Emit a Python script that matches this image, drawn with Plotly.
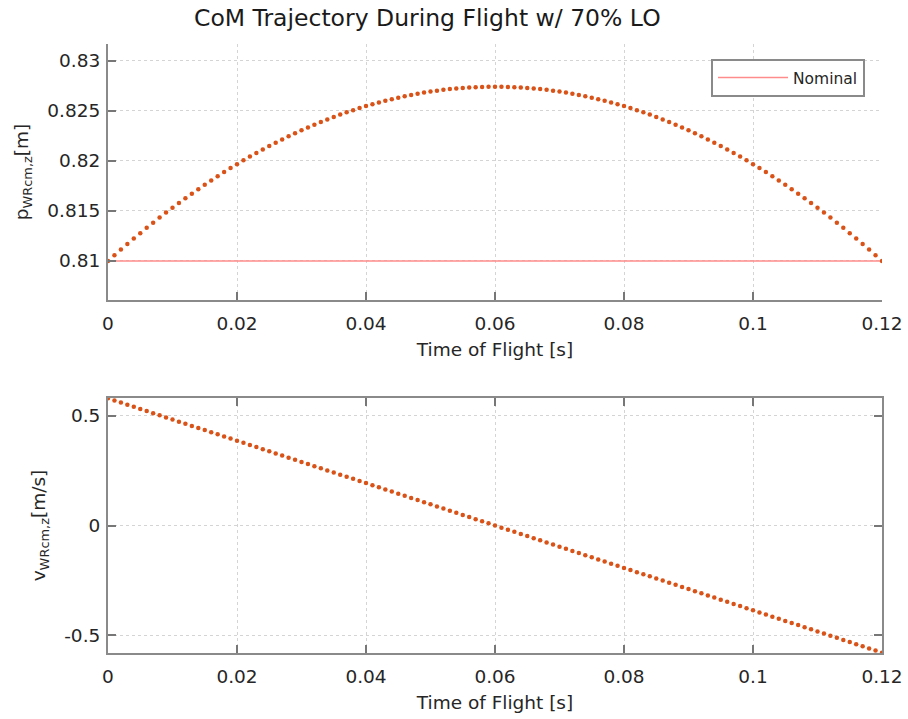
import plotly.graph_objects as go
from plotly.subplots import make_subplots

# ---------------- data ----------------
time_s = [
    0.000, 0.001, 0.002, 0.003, 0.004, 0.005, 0.006, 0.007, 0.008, 0.009,
    0.010, 0.011, 0.012, 0.013, 0.014, 0.015, 0.016, 0.017, 0.018, 0.019,
    0.020, 0.021, 0.022, 0.023, 0.024, 0.025, 0.026, 0.027, 0.028, 0.029,
    0.030, 0.031, 0.032, 0.033, 0.034, 0.035, 0.036, 0.037, 0.038, 0.039,
    0.040, 0.041, 0.042, 0.043, 0.044, 0.045, 0.046, 0.047, 0.048, 0.049,
    0.050, 0.051, 0.052, 0.053, 0.054, 0.055, 0.056, 0.057, 0.058, 0.059,
    0.060, 0.061, 0.062, 0.063, 0.064, 0.065, 0.066, 0.067, 0.068, 0.069,
    0.070, 0.071, 0.072, 0.073, 0.074, 0.075, 0.076, 0.077, 0.078, 0.079,
    0.080, 0.081, 0.082, 0.083, 0.084, 0.085, 0.086, 0.087, 0.088, 0.089,
    0.090, 0.091, 0.092, 0.093, 0.094, 0.095, 0.096, 0.097, 0.098, 0.099,
    0.100, 0.101, 0.102, 0.103, 0.104, 0.105, 0.106, 0.107, 0.108, 0.109,
    0.110, 0.111, 0.112, 0.113, 0.114, 0.115, 0.116, 0.117, 0.118, 0.119,
    0.120,
]

p_z = [
    0.810000, 0.810575, 0.811141, 0.811696, 0.812243, 0.812779, 0.813306, 0.813823, 0.814331, 0.814828,
    0.815317, 0.815795, 0.816264, 0.816723, 0.817173, 0.817612, 0.818043, 0.818463, 0.818874, 0.819275,
    0.819667, 0.820048, 0.820421, 0.820783, 0.821136, 0.821479, 0.821813, 0.822136, 0.822451, 0.822755,
    0.823050, 0.823335, 0.823611, 0.823876, 0.824133, 0.824379, 0.824616, 0.824843, 0.825061, 0.825268,
    0.825467, 0.825655, 0.825834, 0.826003, 0.826163, 0.826312, 0.826453, 0.826583, 0.826704, 0.826815,
    0.826917, 0.827008, 0.827091, 0.827163, 0.827226, 0.827279, 0.827323, 0.827357, 0.827381, 0.827395,
    0.827400,
    0.827395, 0.827381, 0.827357, 0.827323, 0.827279, 0.827226, 0.827163, 0.827091, 0.827008, 0.826917,
    0.826815, 0.826704, 0.826583, 0.826453, 0.826312, 0.826163, 0.826003, 0.825834, 0.825655, 0.825467,
    0.825268, 0.825061, 0.824843, 0.824616, 0.824379, 0.824133, 0.823876, 0.823611, 0.823335, 0.823050,
    0.822755, 0.822451, 0.822136, 0.821813, 0.821479, 0.821136, 0.820783, 0.820421, 0.820048, 0.819667,
    0.819275, 0.818874, 0.818463, 0.818043, 0.817612, 0.817173, 0.816723, 0.816264, 0.815795, 0.815317,
    0.814828, 0.814331, 0.813823, 0.813306, 0.812779, 0.812243, 0.811696, 0.811141, 0.810575, 0.810000,
]

v_z = [
    0.5800, 0.5703, 0.5607, 0.5510, 0.5413, 0.5317, 0.5220, 0.5123, 0.5027, 0.4930,
    0.4833, 0.4737, 0.4640, 0.4543, 0.4447, 0.4350, 0.4253, 0.4157, 0.4060, 0.3963,
    0.3867, 0.3770, 0.3673, 0.3577, 0.3480, 0.3383, 0.3287, 0.3190, 0.3093, 0.2997,
    0.2900, 0.2803, 0.2707, 0.2610, 0.2513, 0.2417, 0.2320, 0.2223, 0.2127, 0.2030,
    0.1933, 0.1837, 0.1740, 0.1643, 0.1547, 0.1450, 0.1353, 0.1257, 0.1160, 0.1063,
    0.0967, 0.0870, 0.0773, 0.0677, 0.0580, 0.0483, 0.0387, 0.0290, 0.0193, 0.0097,
    0.0000,
    -0.0097, -0.0193, -0.0290, -0.0387, -0.0483, -0.0580, -0.0677, -0.0773, -0.0870, -0.0967,
    -0.1063, -0.1160, -0.1257, -0.1353, -0.1450, -0.1547, -0.1643, -0.1740, -0.1837, -0.1933,
    -0.2030, -0.2127, -0.2223, -0.2320, -0.2417, -0.2513, -0.2610, -0.2707, -0.2803, -0.2900,
    -0.2997, -0.3093, -0.3190, -0.3287, -0.3383, -0.3480, -0.3577, -0.3673, -0.3770, -0.3867,
    -0.3963, -0.4060, -0.4157, -0.4253, -0.4350, -0.4447, -0.4543, -0.4640, -0.4737, -0.4833,
    -0.4930, -0.5027, -0.5123, -0.5220, -0.5317, -0.5413, -0.5510, -0.5607, -0.5703, -0.5800,
]

nominal_t = [0.0, 0.12]
nominal_p = [0.81, 0.81]

x_ticks = [0, 0.02, 0.04, 0.06, 0.08, 0.1, 0.12]
x_tick_labels = ["0", "0.02", "0.04", "0.06", "0.08", "0.1", "0.12"]
p_ticks = [0.81, 0.815, 0.82, 0.825, 0.83]
p_tick_labels = ["0.81", "0.815", "0.82", "0.825", "0.83"]
v_ticks = [-0.5, 0, 0.5]
v_tick_labels = ["-0.5", "0", "0.5"]

# ---------------- figure ----------------
W, H = 908, 719
ML, MR, MT, MB = 108, 26, 44, 66
ph = H - MT - MB

def py(px):
    return (H - MB - px) / ph

FONT = "DejaVu Sans"
TXT = "#262626"
DATA_COLOR = "#D95319"
TICK_SIZE = 18.5
LABEL_SIZE = 18.5

fig = make_subplots(rows=2, cols=1)

fig.add_trace(go.Scatter(x=nominal_t, y=nominal_p, mode="lines",
                         line=dict(color="#FF8C8C", width=1.5),
                         name="Nominal", showlegend=True), row=1, col=1)
fig.add_trace(go.Scatter(x=time_s, y=p_z, mode="markers",
                         marker=dict(color=DATA_COLOR, size=4.5, line=dict(width=0)),
                         showlegend=False), row=1, col=1)
fig.add_trace(go.Scatter(x=time_s, y=v_z, mode="markers",
                         marker=dict(color=DATA_COLOR, size=4.5, line=dict(width=0)),
                         showlegend=False), row=2, col=1)

axis_common = dict(
    showline=True, linecolor="#8a8a8a", linewidth=2,
    ticks="inside", ticklen=8, tickwidth=1.5, tickcolor="#777777",
    showgrid=True, gridcolor="#d4d4d4", griddash="dot", gridwidth=1,
    zeroline=False, automargin=False,
    tickfont=dict(family=FONT, size=TICK_SIZE, color=TXT),
)

xt = dict(text="Time of Flight [s]", font=dict(family=FONT, size=LABEL_SIZE, color=TXT), standoff=10)

fig.update_layout(
    width=W, height=H,
    margin=dict(l=ML, r=MR, t=MT, b=MB, autoexpand=False),
    paper_bgcolor="white", plot_bgcolor="white",
    font=dict(family=FONT, color=TXT),
    showlegend=True,
    legend=dict(x=(865 - ML) / (W - ML - MR), y=py(59), xanchor="right", yanchor="top",
                bgcolor="white", bordercolor="#8a8a8a", borderwidth=2,
                itemwidth=70, tracegroupgap=0,
                font=dict(family=FONT, size=15.5, color=TXT)),
    xaxis=dict(axis_common, domain=[0, 1], range=[0, 0.12],
               tickvals=x_ticks, ticktext=x_tick_labels, ticklabelstandoff=6,
               title=xt),
    yaxis=dict(axis_common, domain=[py(300), 1], range=[0.8061, 0.83167],
               tickvals=p_ticks, ticktext=p_tick_labels, ticklabelstandoff=2,
               title=dict(text="p<sub>WRcm,z</sub>[m]", font=dict(family=FONT, size=LABEL_SIZE, color=TXT), standoff=14)),
    xaxis2=dict(axis_common, domain=[0, 1], range=[0, 0.12], mirror="ticks",
                tickvals=x_ticks, ticktext=x_tick_labels, ticklabelstandoff=6,
                title=xt),
    yaxis2=dict(axis_common, domain=[0, py(398)], range=[-0.5815, 0.5815], mirror="ticks",
                tickvals=v_ticks, ticktext=v_tick_labels, ticklabelstandoff=2,
                title=dict(text="v<sub>WRcm,z</sub>[m/s]", font=dict(family=FONT, size=LABEL_SIZE, color=TXT), standoff=14)),
)

fig.add_annotation(text="CoM Trajectory During Flight w/ 70% LO",
                   xref="paper", yref="paper", x=(427 - ML) / (W - ML - MR), y=py(18),
                   xanchor="center", yanchor="middle", showarrow=False,
                   font=dict(family=FONT, size=23.5, color="#1a1a1a"))

fig.write_html("out.html")
